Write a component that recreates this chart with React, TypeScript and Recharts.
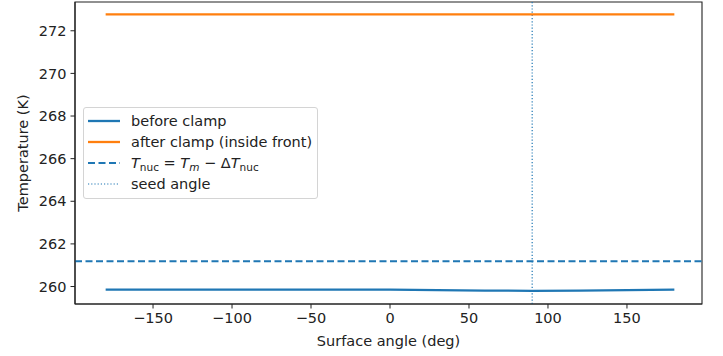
import React from 'react';
import { LineChart, Line, XAxis, YAxis, ReferenceLine, ReferenceArea, Legend, Label } from 'recharts';

const angles = [-180, -150, -120, -90, -60, -30, 0, 30, 60, 90, 120, 150, 180];
const beforeClamp = [259.85, 259.85, 259.85, 259.85, 259.85, 259.85, 259.85, 259.83, 259.81, 259.8, 259.81, 259.83, 259.85];
const afterClamp = [272.77, 272.77, 272.77, 272.77, 272.77, 272.77, 272.77, 272.77, 272.77, 272.77, 272.77, 272.77, 272.77];
const nucThreshold = 261.19;
const seedAngle = 90;
const xTicks = [-150, -100, -50, 0, 50, 100, 150];
const yTicks = [260, 262, 264, 266, 268, 270, 272];
const xDomain = [-199.4, 197.5];
const yDomain = [259.18, 273.35];

const data = angles.map((a, i) => ({ angle: a, before: beforeClamp[i], after: afterClamp[i] }));

const BLUE = '#1f77b4';
const ORANGE = '#ff7f0e';
const FONT = '"DejaVu Sans", sans-serif';
const TXT = '#222';
const FS = 14.5;

const Sub = ({ children, italic }: { children: React.ReactNode; italic?: boolean }) => (
  <span style={{ fontSize: 10.5, position: 'relative', top: 3, fontStyle: italic ? 'italic' : 'normal' }}>{children}</span>
);

const legendItems = [
  { key: 'before', label: <span>before clamp</span>, color: BLUE, dash: undefined as string | undefined, width: 2.3 },
  { key: 'after', label: <span>after clamp (inside front)</span>, color: ORANGE, dash: undefined, width: 2.3 },
  {
    key: 'nuc',
    label: (
      <span>
        <i>T</i><Sub>nuc</Sub> = <i>T</i><Sub italic>m</Sub> − Δ<i>T</i><Sub>nuc</Sub>
      </span>
    ),
    color: BLUE,
    dash: '7 3.5',
    width: 2,
  },
  { key: 'seed', label: <span>seed angle</span>, color: BLUE, dash: '1.2 2', width: 1.2 },
];

const renderLegend = () => (
  <div
    style={{
      boxSizing: 'border-box',
      border: '1px solid #d4d4d4',
      borderRadius: 3,
      background: 'rgba(255,255,255,0.85)',
      padding: '2px 4px 4px 4px',
      fontFamily: FONT,
      fontSize: FS,
      color: TXT,
      width: 235,
    }}
  >
    {legendItems.map((it) => (
      <div key={it.key} style={{ display: 'flex', alignItems: 'center', height: 21 }}>
        <svg width={32} height={10} style={{ marginRight: 11, flex: 'none' }}>
          <line x1={0} y1={5} x2={32} y2={5} stroke={it.color} strokeWidth={it.width} strokeDasharray={it.dash} />
        </svg>
        <span style={{ whiteSpace: 'nowrap' }}>{it.label}</span>
      </div>
    ))}
  </div>
);

const tickStyle = { fontSize: FS, fill: TXT, fontFamily: FONT };

export default function App() {
  return (
    <div style={{ position: 'absolute', left: 0, top: 0 }}>
      <LineChart width={723} height={356} data={data} margin={{ top: 2, right: 21, left: 0, bottom: 0 }}>
        <XAxis
          dataKey="angle"
          type="number"
          domain={xDomain}
          ticks={xTicks}
          allowDataOverflow
          height={52}
          tickSize={4.5}
          tickMargin={4}
          tick={tickStyle}
          tickFormatter={(v: number) => (v < 0 ? '\u2212' + Math.abs(v) : String(v))}
          stroke="#222"
          tickLine={{ stroke: '#222' }}
          axisLine={{ stroke: '#222', strokeWidth: 1.1 }}
        >
          <Label
            content={({ viewBox }: any) => (
              <text
                x={viewBox.x + viewBox.width / 2}
                y={viewBox.y + 42}
                textAnchor="middle"
                style={{ fontSize: FS, fill: TXT, fontFamily: FONT }}
              >
                Surface angle (deg)
              </text>
            )}
          />
        </XAxis>
        <YAxis
          type="number"
          domain={yDomain}
          ticks={yTicks}
          allowDataOverflow
          width={75}
          tickSize={4.5}
          tickMargin={4}
          tick={tickStyle}
          stroke="#222"
          tickLine={{ stroke: '#222' }}
          axisLine={{ stroke: '#222', strokeWidth: 1.1 }}
        >
          <Label
            content={({ viewBox }: any) => {
              const cx = viewBox.x + 23;
              const cy = viewBox.y + viewBox.height / 2;
              return (
                <text
                  x={cx}
                  y={cy}
                  transform={`rotate(-90 ${cx} ${cy})`}
                  textAnchor="middle"
                  dominantBaseline="central"
                  style={{ fontSize: FS, fill: TXT, fontFamily: FONT }}
                >
                  Temperature (K)
                </text>
              );
            }}
          />
        </YAxis>
        <ReferenceArea
          x1={xDomain[0]}
          x2={xDomain[1]}
          y1={yDomain[0]}
          y2={yDomain[1]}
          fill="none"
          fillOpacity={0}
          stroke="#222"
          strokeWidth={1.1}
          ifOverflow="visible"
        />
        <ReferenceLine y={nucThreshold} stroke={BLUE} strokeWidth={2} strokeDasharray="7 3.5" />
        <ReferenceLine x={seedAngle} stroke={BLUE} strokeWidth={1.2} strokeDasharray="1.2 2" />
        <Line dataKey="before" stroke={BLUE} strokeWidth={2.3} dot={false} isAnimationActive={false} type="linear" />
        <Line dataKey="after" stroke={ORANGE} strokeWidth={2.3} dot={false} isAnimationActive={false} type="linear" />
        <Legend
          layout="vertical"
          verticalAlign="middle"
          align="center"
          content={renderLegend}
          wrapperStyle={{ left: 83, top: 107, width: 'auto' }}
        />
      </LineChart>
    </div>
  );
}
